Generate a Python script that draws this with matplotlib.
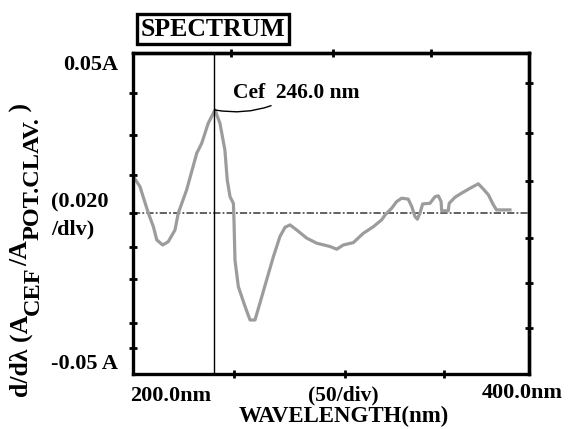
import matplotlib
matplotlib.use("Agg")
import matplotlib.pyplot as plt
import numpy as np

plt.rcParams['font.family'] = ['Liberation Serif', 'DejaVu Serif']
plt.rcParams['font.weight'] = 'bold'

# ---- data ----
wavelength = [205.2, 208.5, 212.7, 215.3, 217.0, 220.0, 222.8, 226.2, 227.9, 232.1,
              237.2, 239.7, 243.0, 246.4, 248.9, 251.4, 252.6, 254.0, 255.7, 256.0,
              256.5, 258.2, 261.6, 264.1, 266.6, 269.1, 272.5, 275.9, 279.2, 281.8,
              284.3, 287.7, 292.7, 297.8, 304.5, 307.9, 311.2, 316.3, 321.3, 326.4,
              330.6, 332.3, 335.7, 338.2, 340.7, 344.0, 345.8, 347.4, 348.6, 349.9,
              351.3, 355.0, 357.5, 359.2, 360.6, 360.9, 364.2, 364.7, 367.6, 371.0,
              375.2, 379.4, 382.0, 384.5, 387.0, 388.6, 395.4]
deriv = [0.0121, 0.0088, 0.0000, -0.0046, -0.0090, -0.0107, -0.0096, -0.0057, 0.0000, 0.0077,
         0.0199, 0.0232, 0.0299, 0.0343, 0.0299, 0.0210, 0.0110, 0.0054, 0.0032, -0.0023,
         -0.0157, -0.0246, -0.0312, -0.0357, -0.0357, -0.0301, -0.0223, -0.0146, -0.0079, -0.0048,
         -0.0040, -0.0057, -0.0084, -0.0101, -0.0112, -0.0121, -0.0107, -0.0099, -0.0068, -0.0046,
         -0.0023, -0.0007, 0.0016, 0.0038, 0.0049, 0.0046, 0.0021, -0.0012, -0.0021, -0.0001,
         0.0030, 0.0032, 0.0054, 0.0057, 0.0038, 0.0007, 0.0007, 0.0032, 0.0052, 0.0066,
         0.0082, 0.0097, 0.0079, 0.0060, 0.0027, 0.0010, 0.0010]
peak_wl = 246.0
peak_label = "Cef  246.0 nm"
x_limits = (205, 405)
y_limits = (-0.0537, 0.0533)
left_ticks = [0.040, 0.026, 0.0127, 0.0, -0.0113, -0.022, -0.0367, -0.045]
right_ticks = [0.0433, 0.0267, 0.0107, -0.0083, -0.0233, -0.0383]
bottom_ticks = [256, 312, 362]
top_ticks = [254.5, 306, 355.5]
ylabel_parts = [("d/dλ (A", False), ("CEF", True), ("/A", False), ("POT.CLAV.", True), (" )", False)]

W, H = 568, 429
fig = plt.figure(figsize=(W/100, H/100), dpi=100)
ax = fig.add_axes([133/W, 1-374/H, 396/W, 321/H])
ax.set_xlim(*x_limits)
ax.set_ylim(*y_limits)

ax.axhline(0, color='#555555', lw=1.3, ls=(0, (4, 1.2, 1, 1.2)), zorder=1)
ax.plot(wavelength, deriv, color='#9c9c9c', lw=2.3, zorder=2)
ax.axvline(peak_wl, color='black', lw=1.0, zorder=3)

pk = deriv[wavelength.index(246.4)]
ax.annotate(peak_label, xy=(246.4, pk), xytext=(255.5, 0.0400),
            fontsize=15.5, fontweight='bold', va='center', ha='left',
            arrowprops=dict(arrowstyle='-', color='black', lw=1.0,
                            connectionstyle='arc3,rad=-0.2', shrinkA=0, shrinkB=0))

for s in ax.spines.values():
    s.set_linewidth(2.4)

ax.set_yticks(left_ticks)
ax.set_xticks(bottom_ticks)
ax.tick_params(direction='inout', length=6, width=2, labelleft=False, labelbottom=False)
sx = ax.secondary_xaxis('top')
sx.set_xticks(top_ticks)
sx.tick_params(direction='inout', length=6, width=2, labeltop=False)
sx.spines['top'].set_linewidth(2.4)
sy = ax.secondary_yaxis('right')
sy.set_yticks(right_ticks)
sy.tick_params(direction='inout', length=6, width=2, labelright=False)
sy.spines['right'].set_linewidth(2.4)

fs = 16
fig.text(118/W, 1-65/H, "0.05A", fontsize=fs, fontweight='bold', ha='right', va='center')
fig.text(118/W, 1-364/H, "-0.05 A", fontsize=fs, fontweight='bold', ha='right', va='center')
fig.text(51/W, 1-202/H, "(0.020", fontsize=fs, fontweight='bold', ha='left', va='center')
fig.text(51/W, 1-229/H, "/dlv)", fontsize=fs, fontweight='bold', ha='left', va='center')

# y label assembled from pieces (large subscripts as in the original)
renderer = fig.canvas.get_renderer()
ycur = H - 397
for txt, sub in ylabel_parts:
    xc = 33 if sub else 21
    t = fig.text(xc/W, ycur/H, txt, fontsize=(17.5 if sub else 18.5), fontweight='bold',
                 rotation=90, ha='center', va='bottom')
    bb = t.get_window_extent(renderer)
    ycur += bb.height

fig.text(171/W, 1-396/H, "200.0nm", fontsize=fs, fontweight='bold', ha='center', va='center')
fig.text(343/W, 1-395/H, "(50/div)", fontsize=15.5, fontweight='bold', ha='center', va='center')
fig.text(522/W, 1-393/H, "400.0nm", fontsize=fs, fontweight='bold', ha='center', va='center')
fig.text(344/W, 1-416/H, "WAVELENGTH(nm)", fontsize=16.5, fontweight='bold', ha='center', va='center')

fig.text(213/W, 1-29/H, "SPECTRUM", fontsize=18.5, fontweight='bold', ha='center', va='center',
         bbox=dict(boxstyle='square,pad=0.15', fc='white', ec='black', lw=2.4))

fig.savefig("out.png", dpi=100)
